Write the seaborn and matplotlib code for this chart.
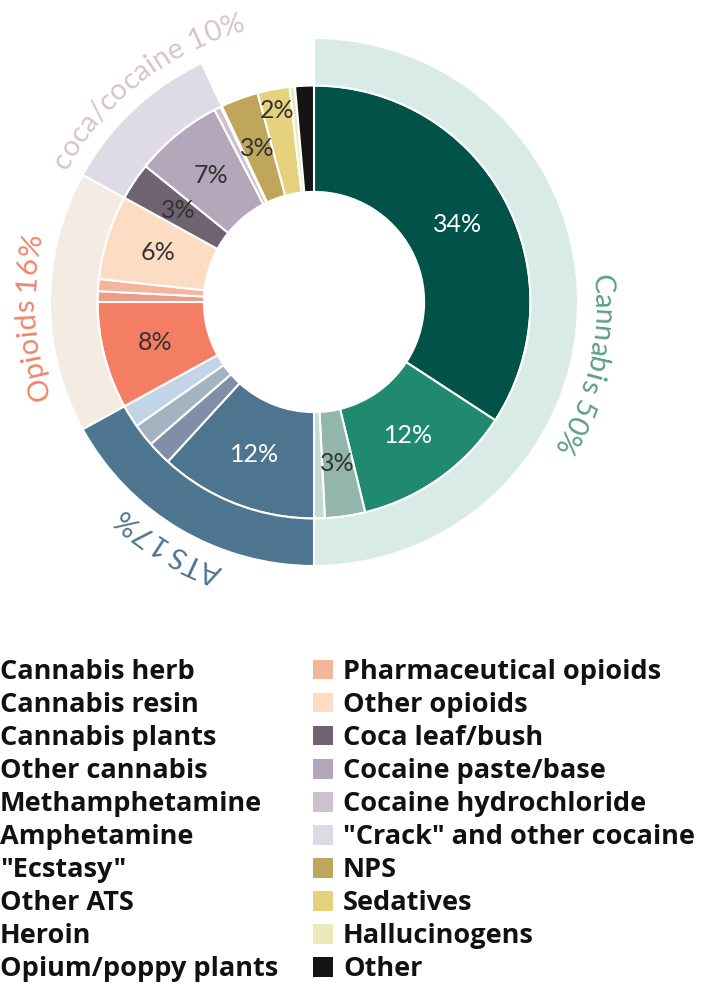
import numpy as np
import matplotlib
matplotlib.use('Agg')
import matplotlib.pyplot as plt
from matplotlib.patches import Patch
from matplotlib.textpath import TextToPath
from matplotlib.font_manager import FontProperties
import seaborn as sns

sns.set_theme(style='white')
plt.rcParams['font.family'] = ['Lato', 'DejaVu Sans']

# inner ring: share of each drug (%), clockwise from 12 o'clock
drugs = ['Cannabis herb', 'Cannabis resin', 'Cannabis plants', 'Other cannabis',
         'Methamphetamine', 'Amphetamine', '"Ecstasy"', 'Other ATS',
         'Heroin', 'Opium/poppy plants', 'Pharmaceutical opioids', 'Other opioids',
         'Coca leaf/bush', 'Cocaine paste/base', 'Cocaine hydrochloride', '"Crack" and other cocaine',
         'NPS', 'Sedatives', 'Hallucinogens', 'Other']
shares = [34.2, 12.0, 3.0, 0.8,
          11.8, 1.8, 1.7, 1.7,
          8.0, 0.8, 0.9, 6.3,
          2.8, 6.6, 0.5, 0.1,
          2.8, 2.4, 0.4, 1.4]
drug_colors = ['#01534a', '#1f8a70', '#93b6ac', '#c6dbd4',
               '#4e7590', '#7f8fa8', '#a3b3c2', '#c2d5e8',
               '#f47e63', '#eb9d87', '#f3b69d', '#fcdcc3',
               '#6f6371', '#b4a6bb', '#cfc0d0', '#dcdae6',
               '#bfa65b', '#e6d27e', '#ede8bb', '#141414']

# outer ring: drug groups
groups = ['Cannabis', 'ATS', 'Opioids', 'coca/cocaine', 'rest']
group_shares = [50, 17, 16, 10, 7]
group_colors = ['#d9ebe6', '#4f7691', '#f4ece2', '#dedbe6', 'white']
group_labels = ['Cannabis 50%', 'ATS 17%', 'Opioids 16%', 'coca/cocaine 10%']
group_text_colors = ['#5c9e8b', '#4f7691', '#f2836a', '#d8c3d1']
group_label_angles = [103, 211, 267, 322]

white_labels = ['Cannabis herb', 'Cannabis resin', 'Methamphetamine']

W, H = 710, 985
R_PX = 264          # outer radius in pixels
A = 330             # half size of axes in pixels
cx, cy = 314, 302   # pie centre in pixels from top-left

fig = plt.figure(figsize=(W / 100, H / 100), dpi=100)
ax = fig.add_axes([(cx - A) / W, (H - cy - A) / H, 2 * A / W, 2 * A / H])

r_in, r_mid, r_out = 0.417, 0.82, 1.0
ax.pie(shares, radius=r_mid, colors=drug_colors, startangle=90, counterclock=False,
       wedgeprops=dict(width=r_mid - r_in, edgecolor='white', linewidth=1.5))
outer, _ = ax.pie(group_shares, radius=r_out, colors=group_colors, startangle=90,
                  counterclock=False,
                  wedgeprops=dict(width=r_out - r_mid, edgecolor='white', linewidth=1.5))
outer[-1].set_visible(False)

# percentage labels on the inner ring
label_r = {'Sedatives': 0.74}
cum = 0
for name, s in zip(drugs, shares):
    if s >= 2:
        ang = np.deg2rad((cum + s / 2) / 100 * 360)
        r = label_r.get(name, 0.62)
        ax.text(r * np.sin(ang), r * np.cos(ang), f'{round(s)}%', ha='center', va='center',
                fontsize=18, color='white' if name in white_labels else '#333333')
    cum += s

# curved group labels, reading clockwise with letter tops outward
ttp = TextToPath()
prop = FontProperties(family='Lato', size=21)
base_w = ttp.get_text_width_height_descent('||', prop, ismath=False)[0]


def advance(c):
    return ttp.get_text_width_height_descent('|' + c + '|', prop, ismath=False)[0] - base_w


def curved_text(text, center_deg, radius, color):
    advs = [advance(c) * 100 / 72 for c in text]
    total = sum(advs)
    pos = -total / 2
    r_px = radius * R_PX
    for c, a in zip(text, advs):
        theta = center_deg + np.rad2deg((pos + a / 2) / r_px)
        t = np.deg2rad(theta)
        ax.text(radius * np.sin(t), radius * np.cos(t), c, fontproperties=prop, color=color,
                rotation=-theta, rotation_mode='anchor', ha='center', va='baseline')
        pos += a


for lab, ang, col in zip(group_labels, group_label_angles, group_text_colors):
    curved_text(lab, ang, 1.06, col)

ax.set_xlim(-A / R_PX, A / R_PX)
ax.set_ylim(-A / R_PX, A / R_PX)
ax.axis('off')

# legend in two columns
handles = [Patch(facecolor=c, edgecolor='none') for c in drug_colors]
leg_kw = dict(loc='upper left', frameon=False, borderpad=0, borderaxespad=0,
              handlelength=0.74, handleheight=0.74, handletextpad=0.37, labelspacing=0.26,
              labelcolor='#111111',
              prop=FontProperties(family='Open Sans', weight='bold', size=19.5))
top = 1 - 659 / H
fig.legend(handles[:10], drugs[:10], bbox_to_anchor=(-30 / W, top), **leg_kw)
fig.legend(handles[10:], drugs[10:], bbox_to_anchor=(313 / W, top), **leg_kw)

fig.savefig('out.png', dpi=100)
